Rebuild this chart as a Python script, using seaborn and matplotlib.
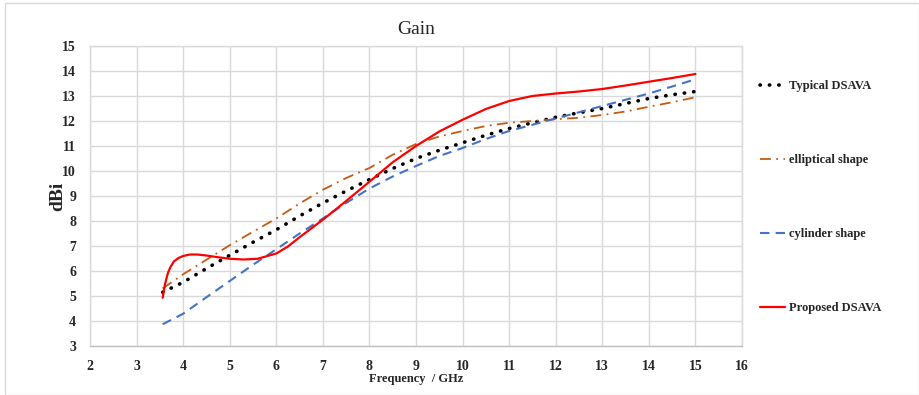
import matplotlib
matplotlib.use("Agg")
import matplotlib.pyplot as plt
from matplotlib.patches import Rectangle
import pandas as pd
import seaborn as sns

# Gain versus frequency for the four antenna variants
freq_typical = [3.56, 4.0, 4.5, 5.0, 5.5, 6.0, 6.5, 7.0, 7.5, 8.0, 8.5, 9.0, 9.5, 10.0,
                10.5, 11.0, 11.5, 12.0, 12.5, 13.0, 13.5, 14.0, 14.5, 15.0]
gain_typical = [5.15, 5.55, 6.10, 6.63, 7.15, 7.65, 8.20, 8.72, 9.20, 9.66, 10.10, 10.50,
                10.83, 11.13, 11.43, 11.70, 11.93, 12.15, 12.33, 12.50, 12.70, 12.90, 13.05, 13.18]

freq_ellip = [3.56, 4.0, 4.5, 5.0, 5.5, 6.0, 6.5, 7.0, 7.5, 8.0, 8.5, 9.0, 9.5, 10.0,
              10.5, 11.0, 11.5, 12.0, 12.5, 13.0, 13.5, 14.0, 14.5, 15.0]
gain_ellip = [5.30, 5.87, 6.45, 7.03, 7.57, 8.10, 8.70, 9.25, 9.72, 10.12, 10.65, 11.08,
              11.38, 11.60, 11.80, 11.93, 12.00, 12.07, 12.13, 12.24, 12.38, 12.57, 12.75, 12.95]

freq_cyl = [3.56, 4.0, 4.5, 5.0, 5.5, 6.0, 6.5, 7.0, 7.5, 8.0, 8.5, 9.0, 9.5, 10.0,
            10.5, 11.0, 11.5, 12.0, 12.5, 13.0, 13.5, 14.0, 14.5, 15.0]
gain_cyl = [3.87, 4.29, 4.95, 5.60, 6.25, 6.87, 7.50, 8.10, 8.72, 9.30, 9.78, 10.20,
            10.60, 10.92, 11.28, 11.60, 11.85, 12.10, 12.35, 12.60, 12.85, 13.10, 13.38, 13.67]

freq_prop = [3.56, 3.61, 3.67, 3.72, 3.80, 3.90, 4.0, 4.15, 4.3, 4.5, 4.75, 5.0, 5.3, 5.6,
             6.0, 6.25, 6.5, 6.75, 7.0, 7.5, 8.0, 8.5, 9.0, 9.5, 10.0, 10.5, 11.0,
             11.5, 12.0, 12.5, 13.0, 13.5, 14.0, 14.5, 15.0]
gain_prop = [4.93, 5.47, 5.90, 6.13, 6.38, 6.52, 6.60, 6.66, 6.66, 6.62, 6.55, 6.49, 6.46,
             6.49, 6.70, 6.98, 7.35, 7.70, 8.05, 8.80, 9.57, 10.35, 11.00, 11.58, 12.05,
             12.48, 12.80, 13.00, 13.10, 13.18, 13.28, 13.42, 13.57, 13.72, 13.88]

labels = ["Typical DSAVA", "elliptical shape", "cylinder shape", "Proposed DSAVA"]
x_ticks = list(range(2, 17))
y_ticks = list(range(3, 16))

series = [
    (freq_typical, gain_typical, labels[0], dict(color="black", lw=2.6, linestyle=(0, (0.1, 2.5)),
                                                  dash_capstyle="round")),
    (freq_ellip, gain_ellip, labels[1], dict(color="#C55A11", lw=1.3,
                                             linestyle=(0, (6, 3, 1, 3)))),
    (freq_cyl, gain_cyl, labels[2], dict(color="#4472C4", lw=1.5, linestyle=(0, (4.5, 3)))),
    (freq_prop, gain_prop, labels[3], dict(color="#FF0000", lw=1.6, linestyle="-")),
]

sns.set_theme(style="white")
plt.rcParams["font.family"] = ["Liberation Serif", "DejaVu Serif"]

fig = plt.figure(figsize=(9.2, 3.95), dpi=100)
ax = fig.add_axes([90 / 920, 1 - 346 / 395, (742 - 90) / 920, (346 - 46) / 395])

for fx, gy, name, kw in series:
    df = pd.DataFrame({"Frequency": fx, "Gain": gy})
    sns.lineplot(data=df, x="Frequency", y="Gain", ax=ax, label=name, sort=False,
                 estimator=None, **kw)

ax.set_xlim(2, 16)
ax.set_ylim(3, 15)
ax.set_xticks(x_ticks)
ax.set_yticks(y_ticks)
ax.set_xticklabels([str(v) for v in x_ticks], fontweight="bold", fontsize=10)
ax.set_yticklabels([str(v) for v in y_ticks], fontweight="bold", fontsize=10)
ax.tick_params(axis="both", length=0)
ax.tick_params(axis="x", pad=10)
ax.tick_params(axis="y", pad=10)
ax.grid(True, color="#D9D9D9", lw=1.0)
for s in ax.spines.values():
    s.set_color("#D9D9D9")
    s.set_linewidth(1.0)
ax.spines["bottom"].set_color("#BFBFBF")

ax.set_xlabel("Frequency  / GHz", fontweight="bold", fontsize=9, labelpad=0)
ax.set_ylabel("dBi", fontweight="bold", fontsize=14, labelpad=-3)
fig.text((90 + 742) / 2 / 920, 1 - 30 / 395, "Gain", ha="center", va="center", fontsize=14)

leg = ax.legend(loc="upper left", bbox_to_anchor=(754 / 920, 1 - 74 / 395),
                bbox_transform=fig.transFigure, frameon=False, handlelength=2.0,
                handletextpad=0.3, labelspacing=4.95, borderpad=0,
                prop={"weight": "bold", "size": 9})

fig.patches.append(Rectangle((5 / 920, 0), 914 / 920, 1 - 3 / 395, transform=fig.transFigure,
                             fill=False, edgecolor="#D9D9D9", lw=1.0))

fig.savefig("out.png", dpi=100)
